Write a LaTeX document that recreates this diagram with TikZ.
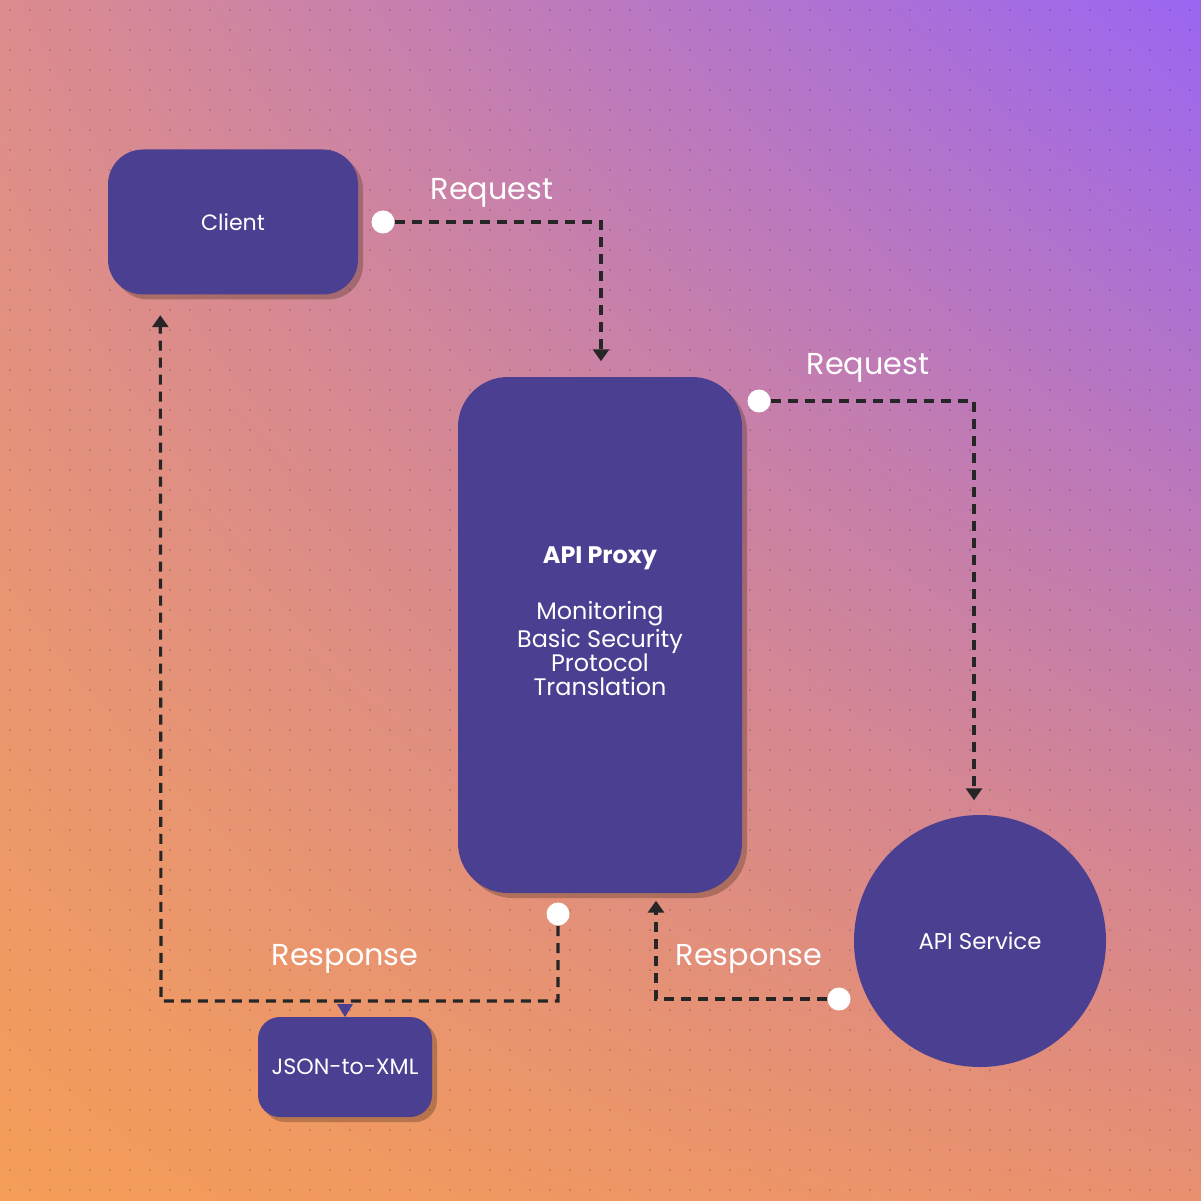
\documentclass[tikz,border=0pt]{standalone}
\usepackage{fontspec}
\setmainfont{Poppins}
\usetikzlibrary{arrows.meta, positioning, calc, shadows, shadings}
\definecolor{boxfill}{HTML}{4A3F91}
\definecolor{bgpurple}{HTML}{9A66F2}
\definecolor{bgorange}{HTML}{F59E58}
\definecolor{bgpink}{HTML}{DC8C8E}
\definecolor{bgpeach}{HTML}{E99070}
\tikzset{
    box/.style={fill=boxfill, text=white, rounded corners=0.35cm, drop shadow={shadow xshift=0.05cm, shadow yshift=-0.05cm, opacity=0.3, fill=black!70!brown}, font=\fontsize{6.3}{7}\selectfont},
    flow/.style={dash pattern=on 0.1cm off 0.07cm, line width=0.9pt, black!85, -{Triangle[length=0.12cm, width=0.16cm]}},
    dot/.style={circle, fill=white, inner sep=0pt, minimum size=0.23cm},
    lbl/.style={text=white, font=\fontsize{8.6}{9}\selectfont}
}
\begin{document}
\begin{tikzpicture}[x=1cm, y=1cm]
    % background
    \shade[upper right=bgpurple, upper left=bgpink, lower left=bgorange, lower right=bgpeach] (0,0) rectangle (12.01,12);
    \useasboundingbox (0,0) rectangle (12.01,12);
    \foreach \i in {0,...,60} {
        \foreach \j in {0,...,60} {
            \fill[black, opacity=0.2] (0.1+\i*0.2, 0.1+\j*0.2) circle (0.01);
        }
    }
    % nodes
    \node[box, minimum width=2.5cm, minimum height=1.45cm] (client) at (2.33,9.78) {Client};
    \node[box, rounded corners=0.5cm, minimum width=2.84cm, minimum height=5.16cm] (proxy) at (6.0,5.65) {};
    \node[text=white, align=center, font=\fontsize{6.8}{6.85}\selectfont, anchor=north] (proxytxt) at (6.0,6.66)
        {\textbf{API Proxy}\\[0.28cm]Monitoring\\Basic Security\\Protocol\\Translation};
    \node[circle, fill=boxfill, text=white, minimum size=2.52cm, inner sep=0pt, font=\fontsize{6.5}{7}\selectfont] (service) at (9.8,2.59) {API Service};
    \node[box, rounded corners=0.22cm, minimum width=1.74cm, minimum height=1.0cm] (json) at (3.45,1.33) {JSON-to-XML};
    % dots
    \node[dot] (d1) at (3.83,9.78) {};
    \node[dot] (d2) at (7.59,7.99) {};
    \node[dot] (d3) at (8.39,2.01) {};
    \node[dot] (d4) at (5.58,2.86) {};
    % bends
    \coordinate (b1) at (6.01,9.78);
    \coordinate (b2) at (9.74,7.99);
    \coordinate (b3) at (6.56,2.01);
    \coordinate (b4) at (5.58,1.99);
    \coordinate (b5) at (1.61,1.99);
    % connectors
    \draw[flow] (d1) -- (b1) -- ($(proxy.north)+(0.01,0.15)$);
    \draw[flow] (d2) -- (b2) -- ($(service.north)+(-0.06,0.14)$);
    \draw[flow] (d3) -- (b3) -- ($(proxy.south)+(0.56,-0.07)$);
    \draw[flow] (d4) -- (b4) -- (b5) -- ($(client.south west)+(0.53,-0.2)$);
    \fill[boxfill] (3.37,1.96) -- (3.53,1.96) -- (3.45,1.83) -- cycle;
    % labels
    \node[lbl] (req1) at (4.92,10.07) {Request};
    \node[lbl] (req2) at (8.68,8.32) {Request};
    \node[lbl] (res1) at (3.45,2.41) {Response};
    \node[lbl] (res2) at (7.49,2.41) {Response};
\end{tikzpicture}
\end{document}
